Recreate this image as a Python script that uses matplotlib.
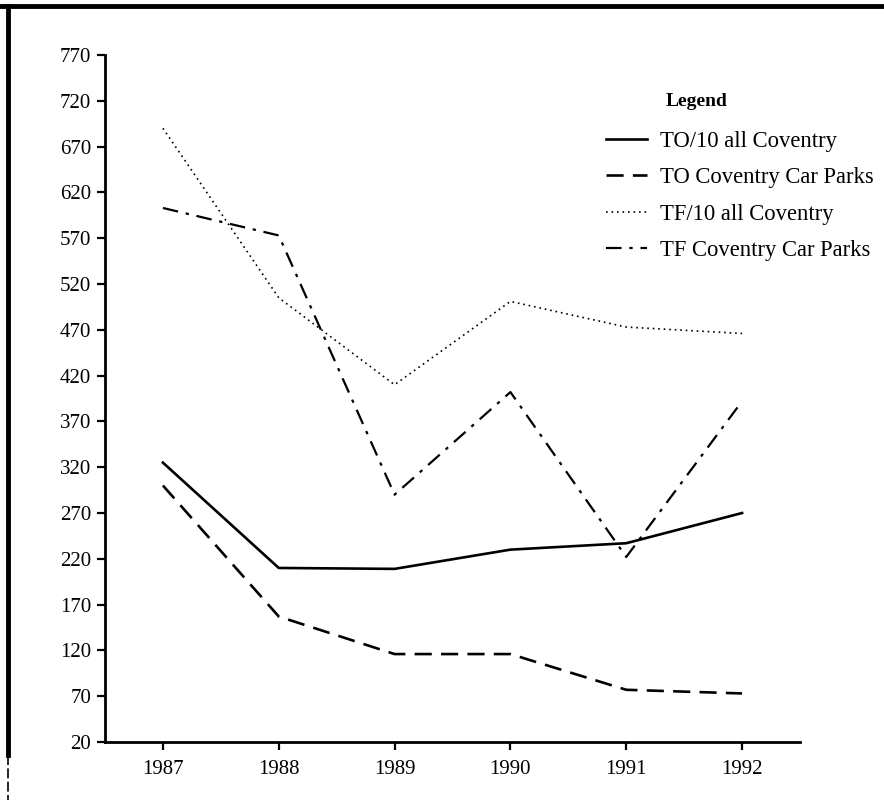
import matplotlib
matplotlib.use("Agg")
import matplotlib.pyplot as plt
from matplotlib.lines import Line2D

years = [1987, 1988, 1989, 1990, 1991, 1992]
to_all = [325, 210, 209, 230, 237, 270]
to_parks = [300, 157, 116, 116, 77, 73]
tf_all = [690, 505, 410, 501, 473, 466]
tf_parks = [603, 573, 290, 402, 222, 392]
labels = ["TO/10 all Coventry", "TO Coventry Car Parks",
          "TF/10 all Coventry", "TF Coventry Car Parks"]
yticks = list(range(20, 771, 50))

plt.rcParams['font.family'] = ['Liberation Serif', 'DejaVu Serif']

fig = plt.figure(figsize=(8.84, 8.0), dpi=100)
ax = fig.add_axes([105 / 884, 1 - 742 / 800, 695 / 884, 687 / 800])

ax.plot(years, to_all, color="black", lw=1.9, label=labels[0])
ax.plot(years, to_parks, color="black", lw=1.9, dashes=(6.5, 3.5), label=labels[1])
ax.plot(years, tf_all, color="black", lw=1.2, dashes=(1, 2.3), label=labels[2])
ax.plot(years, tf_parks, color="black", lw=1.6, dashes=(7, 3.5, 1.5, 3.5), label=labels[3])

ax.set_xlim(1986.5, 1992.5)
ax.set_ylim(20, 770)
ax.set_xticks(years)
ax.set_yticks(yticks)
ax.tick_params(labelsize=15, width=1.6, length=6, direction="out", pad=7)
ax.tick_params(axis="y", pad=4)
for s in ["top", "right"]:
    ax.spines[s].set_visible(False)
for s in ["left", "bottom"]:
    ax.spines[s].set_linewidth(2)

leg = ax.legend(loc="upper left", bbox_to_anchor=(606 / 884, 1 - 131 / 800),
                bbox_transform=fig.transFigure, frameon=False, fontsize=16.3,
                handlelength=1.8, handletextpad=0.6, labelspacing=0.68,
                borderpad=0, borderaxespad=0)
fig.text(697 / 884, 1 - 101 / 800, "Legend", ha="center", va="center",
         fontsize=14, fontweight="bold")

# scanned page border
fig.add_artist(Line2D([0, 1], [1 - 6 / 800, 1 - 6 / 800], color="black", lw=3.5))
fig.add_artist(Line2D([8 / 884, 8 / 884], [1 - 6 / 800, 1 - 755 / 800], color="black", lw=3.5))
fig.add_artist(Line2D([8 / 884, 8 / 884], [1 - 755 / 800, 0], color="black", lw=1.2, dashes=(6, 2)))

fig.savefig("out.png", dpi=100)
